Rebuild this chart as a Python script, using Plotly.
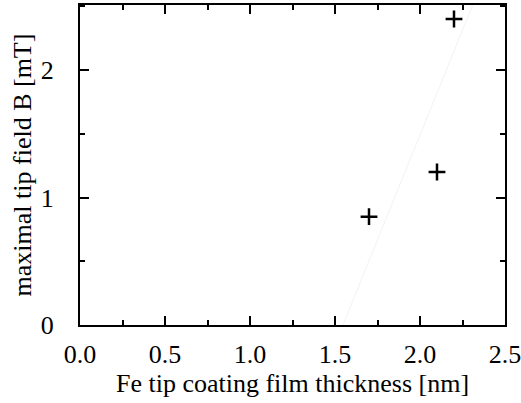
import plotly.graph_objects as go

thickness = [1.7, 2.1, 2.2]
field = [0.85, 1.2, 2.4]
fit_x = [1.547, 2.31]
fit_y = [0.0, 2.51]

x_ticks = [0.0, 0.5, 1.0, 1.5, 2.0, 2.5]
x_labels = ["0.0", "0.5", "1.0", "1.5", "2.0", "2.5"]
y_ticks = [0, 1, 2]
y_labels = ["0", "1", "2"]

fig = go.Figure()
fig.add_trace(go.Scatter(x=fit_x, y=fit_y, mode="lines",
                         line=dict(color="#f3f3f3", width=1), showlegend=False))
fig.add_trace(go.Scatter(x=thickness, y=field, mode="markers",
                         marker=dict(symbol="cross-thin", size=12,
                                     line=dict(color="black", width=2.5)),
                         showlegend=False))

font = dict(family="Liberation Serif, Times New Roman, serif", size=26, color="black")
axis_common = dict(showline=True, linewidth=2, linecolor="black", mirror="ticks",
                   ticks="inside", ticklen=9, tickwidth=2, tickcolor="black",
                   showgrid=False, zeroline=False, tickfont=font,
                   ticklabeloverflow="allow", automargin=False)

fig.update_xaxes(range=[0, 2.5], tickvals=x_ticks, ticktext=x_labels,
                 minor=dict(dtick=0.25, ticks="inside", ticklen=5, tickwidth=2, tickcolor="black"),
                 title=dict(text="Fe tip coating film thickness [nm]", font=font, standoff=2),
                 ticklabelstandoff=5,
                 **axis_common)
fig.update_yaxes(range=[0, 2.51], tickvals=y_ticks, ticktext=y_labels,
                 minor=dict(dtick=0.5, ticks="inside", ticklen=5, tickwidth=2, tickcolor="black"),
                 title=dict(text="maximal tip field B [mT]", font=font, standoff=2),
                 ticklabelstandoff=19,
                 **axis_common)

fig.update_layout(width=521, height=403, margin=dict(l=80, r=16, t=5, b=78),
                  plot_bgcolor="white", paper_bgcolor="white", font=font)
fig.write_html("out.html")
